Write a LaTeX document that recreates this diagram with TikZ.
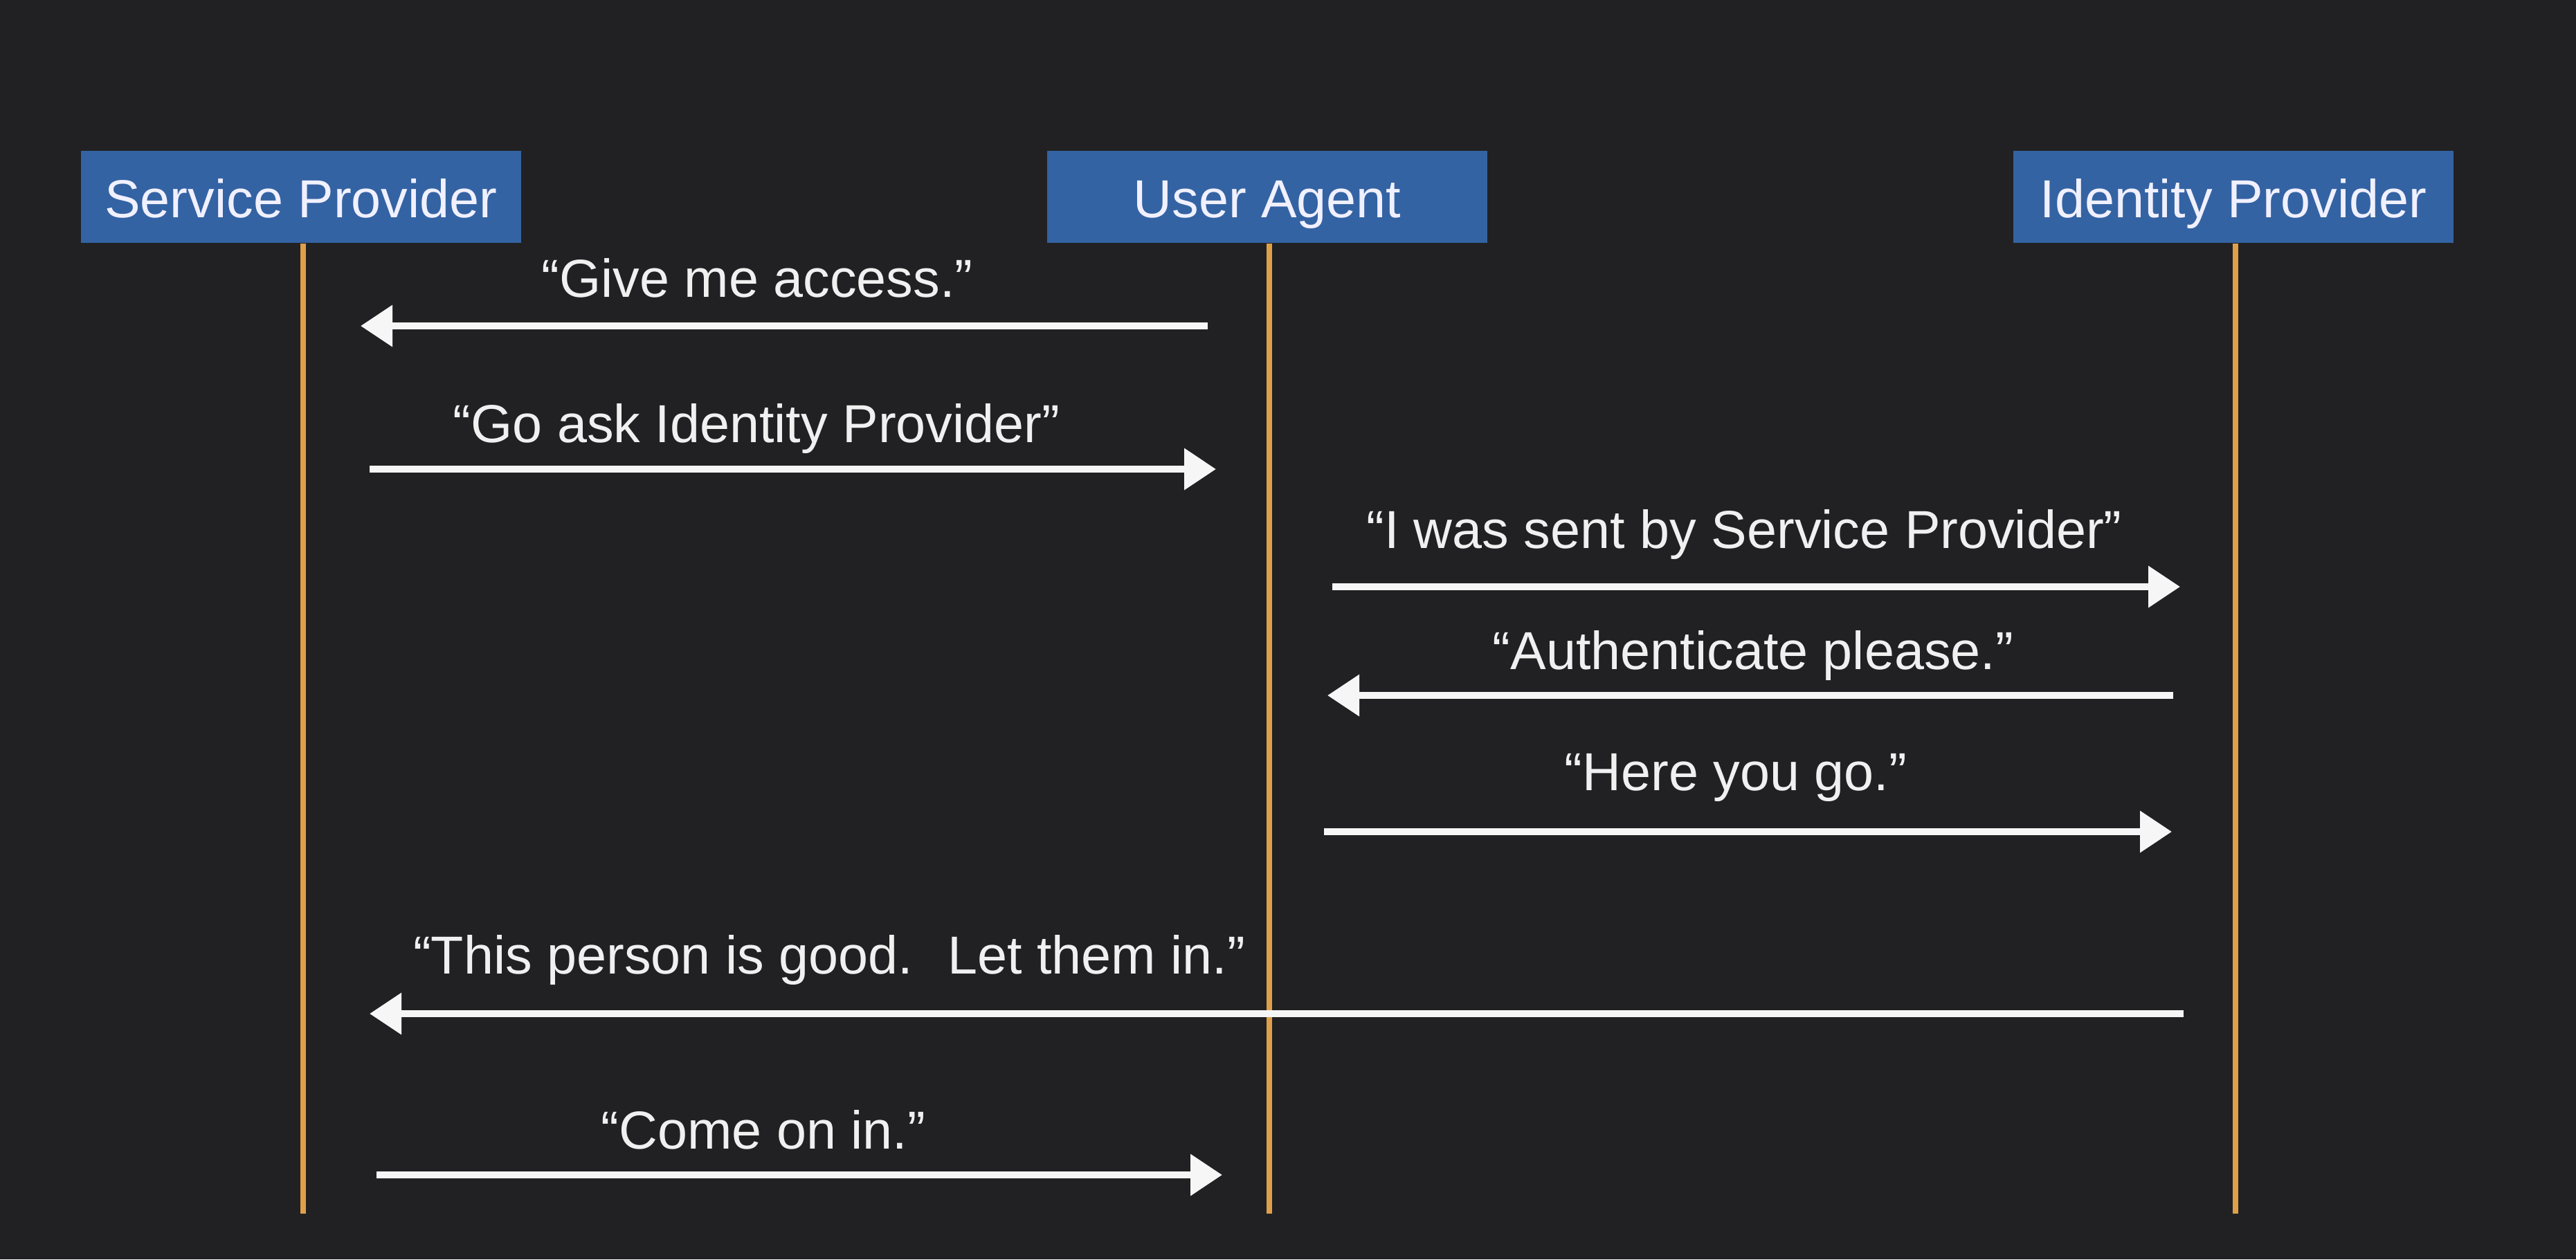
\documentclass[tikz,border=0pt]{standalone}
\usepackage{fontspec}
\setmainfont{Liberation Sans}
\usetikzlibrary{positioning,arrows.meta}
\definecolor{colorBG}{RGB}{33,33,35}
\definecolor{colorBOX}{RGB}{52,99,163}
\definecolor{colorLL}{RGB}{222,160,72}
\colorlet{colorMSG}{white!93!gray}
\colorlet{colorTXT}{white!88!gray}
\tikzset{
   every path/.style={>={Triangle[length=4.6mm,width=5.8mm]}},
   actor/.style={rectangle,fill=colorBOX,minimum width=6.36cm,minimum height=1.33cm,inner sep=0pt,text height=0.60cm,text depth=0cm,text=white!94!blue,font=\fontsize{22}{26}\selectfont},
   ll/.style={-,color=colorLL,line width=2.3pt},
   msg/.style={->,color=colorMSG,line width=2.9pt},
   say/.style={anchor=base,inner sep=0pt,text=colorTXT,font=\fontsize{22}{26}\selectfont},
}

\begin{document}
\begin{tikzpicture}

      \fill[colorBG] (0,0) rectangle (37.22,-18.20);

      \node[actor] (sp) at (4.35,-2.845) {Service Provider};
      \node[actor] (ua) at (18.31,-2.845) {User Agent};
      \node[actor] (idp) at (32.27,-2.845) {Identity Provider};

      % lifelines sit a hair right of the box centre
      \path (sp.south) ++(0.03,0) coordinate (spTop) ++(0,-14.02) coordinate (spEnd);
      \path (ua.south) ++(0.03,0) coordinate (uaTop) ++(0,-14.02) coordinate (uaEnd);
      \path (idp.south) ++(0.03,0) coordinate (idpTop) ++(0,-14.02) coordinate (idpEnd);
      \draw[ll] (spTop) -- (spEnd);
      \draw[ll] (uaTop) -- (uaEnd);
      \draw[ll] (idpTop) -- (idpEnd);

      \coordinate (m1a) at (17.45,-4.71);
      \coordinate (m1b) at (5.21,-4.71);
      \coordinate (m2a) at (5.34,-6.78);
      \coordinate (m2b) at (17.57,-6.78);
      \coordinate (m3a) at (19.25,-8.48);
      \coordinate (m3b) at (31.50,-8.48);
      \coordinate (m4a) at (31.40,-10.05);
      \coordinate (m4b) at (19.18,-10.05);
      \coordinate (m5a) at (19.13,-12.02);
      \coordinate (m5b) at (31.38,-12.02);
      \coordinate (m6a) at (31.55,-14.65);
      \coordinate (m6b) at (5.34,-14.65);
      \coordinate (m7a) at (5.44,-16.98);
      \coordinate (m7b) at (17.66,-16.98);

      \draw[msg] (m1a) -- (m1b);
      \draw[msg] (m2a) -- (m2b);
      \draw[msg] (m3a) -- (m3b);
      \draw[msg] (m4a) -- (m4b);
      \draw[msg] (m5a) -- (m5b);
      \draw[msg] (m6a) -- (m6b);
      \draw[msg] (m7a) -- (m7b);

      \node[say] (access) at (10.94,-4.29) {“Give me access.”};
      \node[say] (goask) at (10.93,-6.39) {“Go ask Identity Provider”};
      \node[say] (sent) at (25.20,-7.92) {“I was sent by Service Provider”};
      \node[say] (authn) at (25.33,-9.67) {“Authenticate please.”};
      \node[say] (hereyougo) at (25.08,-11.42) {“Here you go.”};
      \node[say] (letin) at (11.98,-14.07) {“This person is good.~ Let them in.”};
      \node[say] (comein) at (11.03,-16.60) {“Come on in.”};

\end{tikzpicture}
\end{document}
